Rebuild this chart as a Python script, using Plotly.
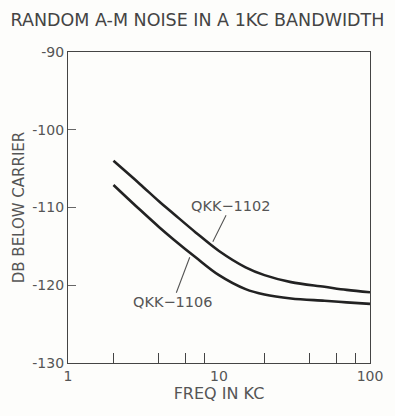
import numpy as np
import plotly.graph_objects as go

# Frequency (kc) and random A-M noise level (db below carrier) in a 1 kc band
freq_kc = [2, 3, 4, 5, 7, 10, 15, 20, 30, 50, 70, 100]
qkk_1102 = [-104.0, -107.0, -109.2, -110.8, -113.2, -115.6, -117.7, -118.7, -119.6, -120.2, -120.6, -120.9]
qkk_1106 = [-107.1, -110.3, -112.5, -114.1, -116.4, -118.7, -120.5, -121.2, -121.7, -122.0, -122.2, -122.4]

x_tick_vals = [1, 10, 100]
x_tick_text = ["1", "10", "100"]
x_minor_ticks = [2, 4, 6, 8, 20, 40, 60, 80]
y_tick_vals = [-130, -120, -110, -100, -90]
y_tick_text = ["-130", "-120", "-110", "-100", "-90"]

ink = "#222222"
label_grey = "#555555"
font_family = "DejaVu Sans"

fig = go.Figure()
for name, ys in (("QKK-1102", qkk_1102), ("QKK-1106", qkk_1106)):
    fig.add_trace(go.Scatter(
        x=freq_kc, y=ys, mode="lines", name=name,
        line=dict(color=ink, width=2.6, shape="spline", smoothing=1.0),
        showlegend=False, hoverinfo="skip",
    ))

# Curve labels with pointer arrows
fig.add_annotation(x=np.log10(9.1), y=-114.4, xref="x", yref="y",
                   text="QKK\u22121102", showarrow=True, arrowhead=0,
                   arrowwidth=1.1, arrowcolor="#555555", ax=18, ay=-36,
                   font=dict(family=font_family, size=14.5, color=label_grey))
fig.add_annotation(x=np.log10(6.4), y=-116.4, xref="x", yref="y",
                   text="QKK\u22121106", showarrow=True, arrowhead=0,
                   arrowwidth=1.1, arrowcolor="#555555", ax=-17, ay=45,
                   font=dict(family=font_family, size=14.5, color=label_grey))

fig.update_layout(
    width=395, height=416,
    margin=dict(l=68, r=16, t=52, b=53),
    paper_bgcolor="#fdfdfb", plot_bgcolor="#fdfdfb",
    title=dict(text="RANDOM A-M NOISE IN A 1KC BANDWIDTH", x=0.5, xanchor="center",
               y=0.952, yanchor="middle",
               font=dict(family=font_family, size=17.5, color="#444444")),
    font=dict(family=font_family, color=label_grey),
)
fig.update_xaxes(
    type="log", range=[0, 2],
    tickvals=x_tick_vals, ticktext=x_tick_text,
    ticks="inside", ticklen=0, tickcolor=ink,
    minor=dict(tickvals=x_minor_ticks, ticks="inside", ticklen=10, tickcolor="#444444", tickwidth=1),
    showgrid=False, zeroline=False,
    showline=True, linecolor="#444444", linewidth=1.2, mirror=True,
    tickfont=dict(size=14, color=label_grey, family=font_family),
    title=dict(text="FREQ IN KC", standoff=4,
               font=dict(size=16, color=label_grey, family=font_family)),
)
fig.update_yaxes(
    range=[-130, -90],
    tickvals=y_tick_vals, ticktext=y_tick_text,
    ticks="inside", ticklen=8, tickcolor="#666666", tickwidth=1,
    showgrid=False, zeroline=False,
    showline=True, linecolor="#444444", linewidth=1.2, mirror=True,
    tickfont=dict(size=14, color=label_grey, family=font_family),
    title=dict(text="DB BELOW CARRIER", standoff=4,
               font=dict(size=15, color=label_grey, family=font_family)),
)

fig.write_html("out.html")
